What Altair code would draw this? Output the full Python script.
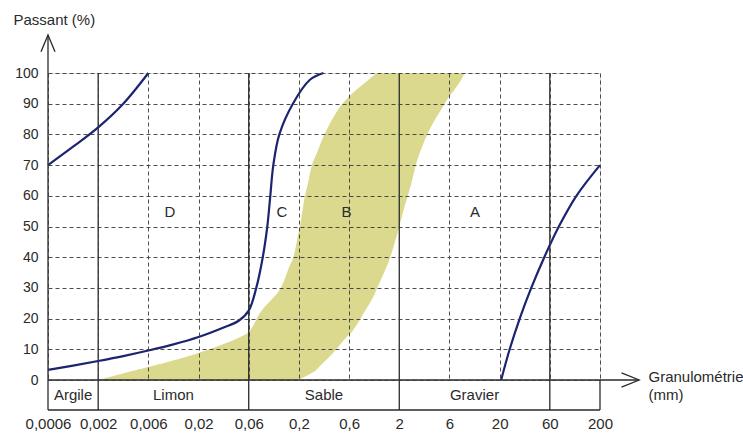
import json
import altair as alt
import pandas as pd

# ---------------- data ----------------
size_labels = ["0,0006", "0,002", "0,006", "0,02", "0,06", "0,2", "0,6",
               "2", "6", "20", "60", "200"]          # equally spaced x positions 0..11
y_ticks = list(range(0, 101, 10))

class_names = ["Argile", "Limon", "Sable", "Gravier"]
class_bounds = [0, 1, 4, 7, 10, 11]                    # indices of 0.0006, 0.002, 0.06, 2, 60, 200

# curve (clay, leftmost)
clay_x = [0, 0.5, 1, 1.5, 2]
clay_y = [70, 76, 82.3, 90, 100]

# curve D -> C (silt + fine sand)
silt_x = [0, 0.5, 1, 1.5, 2, 2.5, 3, 3.5, 3.8, 4.0, 4.15, 4.28, 4.37, 4.43,
          4.49, 4.61, 4.88, 5.22, 5.49]
silt_y = [3.3, 4.7, 6.2, 7.8, 9.6, 11.6, 14.0, 17.1, 19.3, 22.6, 30, 40, 50,
          60, 70, 80, 90, 97.8, 100]

# curve A (gravel)
grav_x = [9.03, 9.2, 9.4, 9.63, 9.89, 10.18, 10.53, 11.0]
grav_y = [0, 10, 20, 30, 40, 50, 60, 70]

# band B (sand envelope): passing % and left / right boundary
band_y = [0, 3, 4.2, 8.8, 14, 16, 22, 27, 30, 37, 40, 47, 50, 55, 60, 64, 70,
          74, 79, 83, 89, 91, 95, 98, 100]
band_left = [1.0, 1.7, 2.0, 3.0, 3.83, 4.02, 4.23, 4.5, 4.64, 4.81, 4.89,
             4.98, 5.02, 5.07, 5.12, 5.18, 5.26, 5.36, 5.48, 5.6, 5.82, 5.92,
             6.18, 6.4, 6.55]
band_right = [4.99, 5.33, 5.4, 5.68, 5.95, 6.07, 6.3, 6.48, 6.56, 6.75, 6.82,
              6.95, 7.0, 7.08, 7.17, 7.24, 7.33, 7.41, 7.53, 7.65, 7.87, 7.94,
              8.12, 8.24, 8.3]

zone_letters = ["D", "C", "B", "A"]
zone_x = [2.43, 4.66, 5.95, 8.51]
zone_y = [54.7, 54.7, 54.7, 54.7]

# ---------------- layout constants ----------------
BAND = 9.77       # depth of the class band below the x axis (in % units)
Y_TOP = 112.4     # top of y arrow
X_END = 11.78     # tip of x arrow
FONT = "Liberation Sans"
INK = "#2a2a2a"
NAVY = "#1b2470"

# ---------------- tables ----------------
curves = pd.concat([
    pd.DataFrame({"x": clay_x, "y": clay_y, "c": "clay"}),
    pd.DataFrame({"x": silt_x, "y": silt_y, "c": "silt"}),
    pd.DataFrame({"x": grav_x, "y": grav_y, "c": "grav"}),
])
band = pd.DataFrame({"y": band_y, "x": band_left, "x2": band_right})

frame_rows = [
    {"x": 0, "x2": 0, "y": -BAND, "y2": Y_TOP},
    {"x": 0, "x2": X_END, "y": 0, "y2": 0},
    {"x": 0, "x2": class_bounds[-1], "y": -BAND, "y2": -BAND},
    {"x": class_bounds[-1], "x2": class_bounds[-1], "y": -BAND, "y2": 0},
]
for b in class_bounds[1:-1]:
    frame_rows.append({"x": b, "x2": b, "y": -BAND, "y2": 100})
frame = pd.DataFrame(frame_rows)

classes = pd.DataFrame({
    "name": class_names,
    "x": [(class_bounds[i] + class_bounds[i + 1]) / 2 for i in range(len(class_names))],
    "y": [-BAND / 2] * len(class_names),
})
letters = pd.DataFrame({"t": zone_letters, "x": zone_x, "y": zone_y})

# ---------------- scales / axes ----------------
xs = alt.Scale(domain=[0, 11], nice=False, zero=False)
ys = alt.Scale(domain=[0, 100], nice=False, zero=False)

label_expr = json.dumps(size_labels) + "[datum.value]"
x_axis = alt.Axis(values=list(range(len(size_labels))), labelExpr=label_expr,
                  domain=False, ticks=False, labelPadding=36, labelFontSize=15,
                  labelColor=INK, labelFont=FONT, labelOverlap=False, labelBound=False,
                  labelFlush=False,
                  grid=True, gridDash=[4, 3], gridColor="#3a3a3a", gridWidth=0.9,
                  title=["Granulométrie", "(mm)"], titleFont=FONT, titleFontSize=15,
                  titleFontWeight="normal", titleColor=INK, titleAlign="left",
                  titleBaseline="top", titleX=600, titleY=-11, titleLineHeight=18,
                  zindex=1)
y_axis = alt.Axis(values=y_ticks, domain=False, ticks=False, labelPadding=10,
                  labelFontSize=14, labelColor=INK, labelFont=FONT,
                  labelOverlap=False, labelFlush=False,
                  grid=True, gridDash=[4, 3], gridColor="#3a3a3a", gridWidth=0.9,
                  title="Passant (%)", titleFont=FONT, titleFontSize=15,
                  titleFontWeight="normal", titleColor=INK, titleAngle=0,
                  titleAlign="left", titleBaseline="middle", titleX=-35, titleY=-54,
                  zindex=1)


def X(field="x"):
    return alt.X(f"{field}:Q", scale=xs, axis=x_axis)


def Y(field="y"):
    return alt.Y(f"{field}:Q", scale=ys, axis=y_axis)


band_layer = alt.Chart(band).mark_area(
    orient="horizontal", interpolate="catmull-rom", color="#d8d787", opacity=0.95
).encode(y=Y(), x=X(), x2="x2:Q")

frame_layer = alt.Chart(frame).mark_rule(color=INK, strokeWidth=1.3).encode(
    x=X(), x2="x2:Q", y=Y(), y2="y2:Q")

curve_layer = alt.Chart(curves).mark_line(
    interpolate="catmull-rom", color=NAVY, strokeWidth=2.2
).encode(x=X(), y=Y(), detail="c:N", order="x:Q")

arrow_x = alt.Chart(pd.DataFrame({"x": [X_END], "y": [0]})).mark_point(
    shape="M -1 -0.41 L 0 0 L -1 0.41", size=1240, filled=False,
    color=INK, strokeWidth=1.3, opacity=1
).encode(x=X(), y=Y())

arrow_y = alt.Chart(pd.DataFrame({"x": [0], "y": [Y_TOP]})).mark_point(
    shape="M -0.42 1 L 0 0 L 0.42 1", size=1115, filled=False,
    color=INK, strokeWidth=1.3, opacity=1
).encode(x=X(), y=Y())

class_text = alt.Chart(classes).mark_text(
    font=FONT, fontSize=15, color=INK, baseline="middle", align="center"
).encode(x=X(), y=Y(), text="name:N")

letter_text = alt.Chart(letters).mark_text(
    font=FONT, fontSize=15, color=INK, baseline="middle", align="center"
).encode(x=X(), y=Y(), text="t:N")

chart = alt.layer(
    band_layer, frame_layer, curve_layer, arrow_x, arrow_y, class_text, letter_text
).properties(
    width=552, height=307,
    autosize=alt.AutoSizeParams(type="none"),
    padding={"left": 48, "top": 73, "right": 143, "bottom": 57},
    background="white",
).configure_view(stroke=None).configure(font=FONT)

chart.save("out.html", embed_options={"renderer": "svg", "actions": False})
